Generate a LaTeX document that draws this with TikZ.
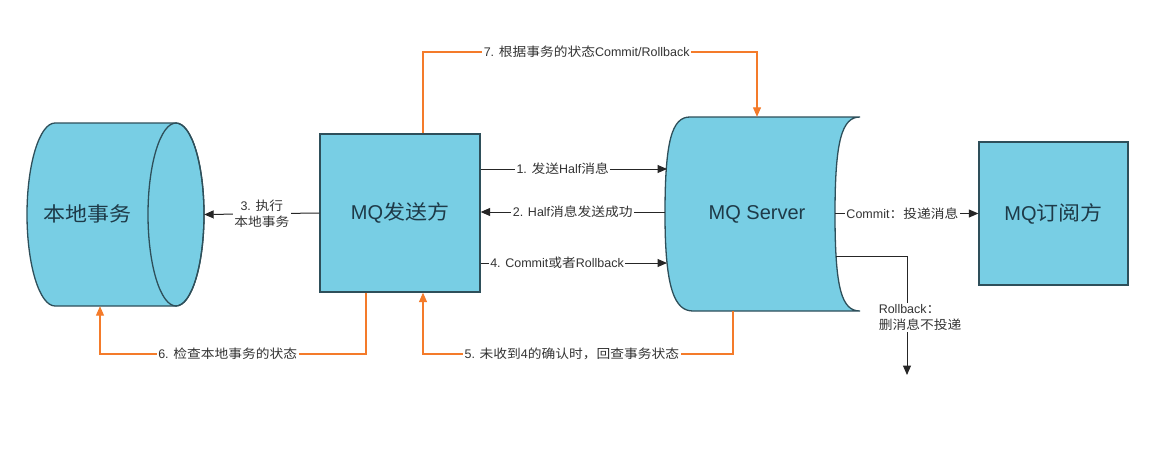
\documentclass[tikz,border=0pt]{standalone}
\usepackage{fontspec}
\setmainfont{Liberation Sans}
\newfontfamily\cjk[FakeStretch=1.1]{Noto Sans CJK SC}
\usetikzlibrary{arrows.meta}
\definecolor{fillblue}{HTML}{78CEE4}
\definecolor{edgecol}{HTML}{2E4F5A}
\definecolor{myorange}{HTML}{F47B2A}
\definecolor{txt}{HTML}{1E3A48}
\definecolor{lbl}{HTML}{333333}
\begin{document}
\begin{tikzpicture}[x=1pt,y=1pt,
  shapestyle/.style={fill=fillblue, draw=edgecol, line width=1.3pt},
  bigtext/.style={font=\fontsize{20}{24}\selectfont, text=txt},
  conn/.style={draw=black!85, line width=1pt},
  arr/.style={-{Triangle[length=9.5pt,width=8pt]}},
  oconn/.style={draw=myorange, line width=1.2pt},
  lab/.style={font=\fontsize{12.5}{16}\selectfont, text=lbl, fill=white, inner sep=1.5pt},
]
\useasboundingbox (0,0) rectangle (1170,-452);
\fill[white] (0,0) rectangle (1170,-452);

% local transaction cylinder
\path[shapestyle] (176,-123) -- (55,-123)
  arc[start angle=90,end angle=270,x radius=28,y radius=91.5]
  -- (176,-306)
  arc[start angle=-90,end angle=90,x radius=28,y radius=91.5] -- cycle;
\draw[edgecol, line width=1.3pt] (176,-214.5) ellipse[x radius=28,y radius=91.5];
\node[minimum width=177pt, minimum height=183pt, inner sep=0] (local) at (115.5,-214.5) {};
\node[bigtext] (localtxt) at (87,-214) {\cjk 本地事务};

% MQ sender
\node[shapestyle, bigtext, minimum width=160pt, minimum height=158pt, inner sep=0] (send) at (400,-213) {MQ{\cjk 发送方}};

% MQ server
\path[shapestyle] (690,-117) -- (860,-117)
  .. controls (842,-117) and (835,-140) .. (835,-214)
  .. controls (835,-290) and (842,-311) .. (860,-311)
  -- (693,-311)
  .. controls (675,-311) and (665,-290) .. (665,-214)
  .. controls (665,-140) and (672,-117) .. (690,-117) -- cycle;
\node[bigtext, minimum width=170pt, minimum height=194pt, inner sep=0] (server) at (757,-214) {MQ Server};

% MQ subscriber
\node[shapestyle, bigtext, minimum width=149pt, minimum height=143pt, inner sep=0] (sub) at (1053.5,-213.5) {MQ{\cjk 订阅方}};

% edge coordinates
\coordinate (s1) at (667,-169);
\coordinate (s2) at (665,-212);
\coordinate (s4) at (667,-263);
\coordinate (sc) at (835,-213.5);
\coordinate (sr) at (836,-256);
\coordinate (cr) at (907,-256);
\coordinate (re) at (907,-375);
\coordinate (c7a) at (423,-52);
\coordinate (c7b) at (757,-52);
\coordinate (c5a) at (733,-354);
\coordinate (c5b) at (423,-354);
\coordinate (c6a) at (366,-354);
\coordinate (c6b) at (100,-354);

% black connectors
\draw[conn,arr] (send.east |- s1) -- node[lab,pos=0.44] {1. {\cjk 发送}Half{\cjk 消息}} (s1);
\draw[conn,arr] (s2) -- node[lab,pos=0.5] {2. Half{\cjk 消息发送成功}} (send.east |- s2);
\draw[conn,arr] (send.east |- s4) -- node[lab,pos=0.41] {4. Commit{\cjk 或者}Rollback} (s4);
\draw[conn,arr] (send.west) -- node[lab,align=center,font=\fontsize{12.5}{16}\selectfont] {3. {\cjk 执行}\\{\cjk 本地事务}} (local.east);
\draw[conn,arr] (sc) -- node[lab,pos=0.47] {Commit{\cjk ：投递消息}} (sub.west);
\draw[conn,arr] (sr) -- (cr) -- node[lab,pos=0.52,xshift=13pt,align=left] {Rollback{\cjk ：}\\{\cjk 删消息不投递}} (re);

% orange connectors
\draw[oconn,arr] ([xshift=23pt]send.north) -- (c7a) -- node[lab,pos=0.49] {7. {\cjk 根据事务的状态}Commit/Rollback} (c7b) -- (server.north);
\draw[oconn,arr] ([xshift=-24pt]server.south) -- (c5a) -- node[lab,pos=0.52] {5. {\cjk 未收到}4{\cjk 的确认时，回查事务状态}} (c5b) -- ([xshift=23pt]send.south);
\draw[oconn,arr] ([xshift=-34pt]send.south) -- (c6a) -- node[lab,pos=0.52] {6. {\cjk 检查本地事务的状态}} (c6b) -- ([xshift=-15.5pt]local.south);
\end{tikzpicture}
\end{document}
